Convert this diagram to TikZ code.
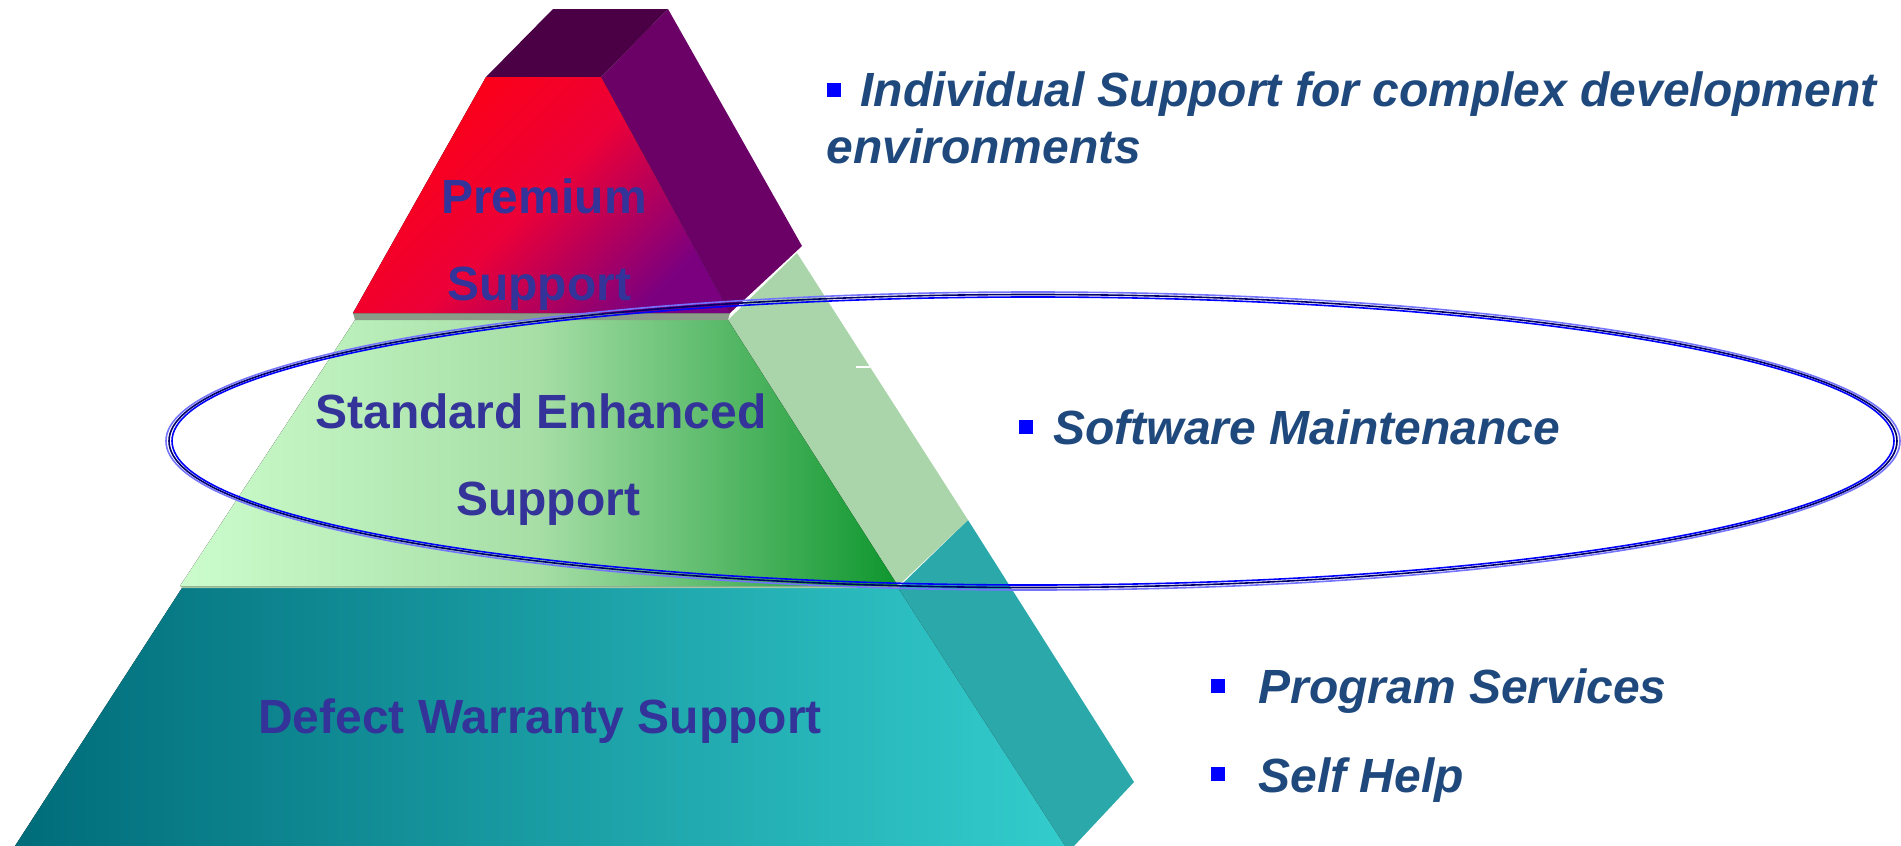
\documentclass[tikz,border=0pt]{standalone}
\usepackage{fontspec}
\setmainfont{Liberation Sans}

\definecolor{tiertext}{HTML}{333399}
\definecolor{notetext}{HTML}{1F497D}
\definecolor{plumtop}{HTML}{4B0045}
\definecolor{plumside}{HTML}{6B0066}
\definecolor{premleft}{HTML}{FF0012}
\definecolor{premmid}{HTML}{EC0038}
\definecolor{premright}{HTML}{7A0080}
\definecolor{greenleft}{HTML}{CCFCCC}
\definecolor{greenmid}{HTML}{A6DEA6}
\definecolor{greenright}{HTML}{0E962E}
\definecolor{greenside}{HTML}{AAD4AA}
\definecolor{tealleft}{HTML}{006C7A}
\definecolor{tealright}{HTML}{33CCCC}
\definecolor{tealside}{HTML}{2AA8AA}
\definecolor{seam}{HTML}{8A9C88}

\begin{document}
\begin{tikzpicture}[x=0.5pt,y=-0.5pt,
  tier/.style={font=\bfseries\fontsize{24}{28}\selectfont,text=tiertext,anchor=base,inner sep=0},
  note/.style={font=\bfseries\itshape\fontsize{24}{28}\selectfont,text=notetext,anchor=base west,inner sep=0},
  bullet/.style={fill=blue,minimum size=7pt,inner sep=0},
  ring/.style={line width=0.8pt}]
 \useasboundingbox (0,0) rectangle (1901,846);
 % bottom tier
 \fill[tealside] (898,588)--(968,520)--(1134,782)--(1074,846)--(1065,846)--cycle;
 \fill[left color=tealleft,right color=tealright] (182,588)--(898,588)--(1065,846)--(15,846)--cycle;
 \fill[greenside!85!gray] (180,585)--(898,585)--(899,588)--(182,588)--cycle;
 % middle tier
 \fill[greenside] (728,320)--(797,253)--(968,520)--(898,586)--cycle;
 \fill[left color=greenleft,right color=greenright,middle color=greenmid] (355,320)--(728,320)--(898,586)--(180,586)--cycle;
 \fill[seam] (353,313)--(730,313)--(728,320)--(355,320)--cycle;
 \draw[white,line width=0.6pt] (856,367)--(870,367);
 % top tier
 \fill[plumside] (668,9)--(802,246)--(730,313)--(601,77)--cycle;
 \fill[plumtop] (553,9)--(668,9)--(601,77)--(486,77)--cycle;
 \fill[left color=premleft,right color=premright,middle color=premmid,shading angle=45] (486,77)--(601,77)--(730,313)--(353,313)--cycle;
 % ring round the middle tier
 \coordinate (ring) at (1033,441);
 \draw[ring,blue!55] (ring) ellipse [x radius=867, y radius=149];
 \draw[ring,blue!40!black] (ring) ellipse [x radius=864, y radius=146.5];
 \draw[ring,blue] (ring) ellipse [x radius=861, y radius=144];
 % tier labels
 \node[tier] (prem1) at (544,213) {Premium};
 \node[tier] (prem2) at (539,300) {Support};
 \node[tier] (std1) at (541,428) {Standard Enhanced};
 \node[tier] (std2) at (548,515) {Support};
 \node[tier] (dws) at (540,733) {Defect Warranty Support};
 % notes
 \node[bullet] (b1) at (834,90) {};
 \node[note] (n1) at (860,106) {Individual Support for complex development};
 \node[note] (n1b) at (826,163) {environments};
 \node[bullet] (b2) at (1026,427) {};
 \node[note] (n2) at (1053,444) {Software Maintenance};
 \node[bullet] (b3) at (1218,686) {};
 \node[note] (n3) at (1258,703) {Program Services};
 \node[bullet] (b4) at (1218,774) {};
 \node[note] (n4) at (1258,792) {Self Help};
\end{tikzpicture}
\end{document}
